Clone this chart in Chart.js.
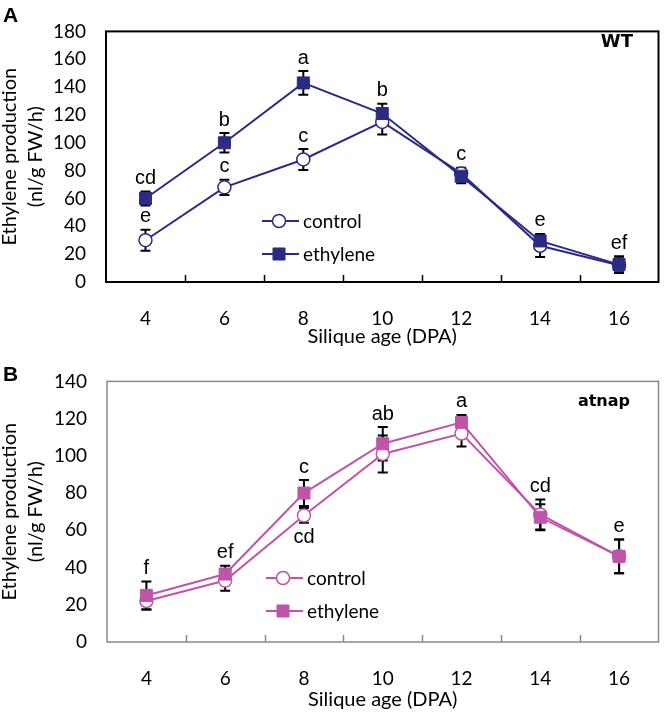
<!DOCTYPE html>
<html>
<head>
<meta charset="utf-8">
<script src="https://cdn.jsdelivr.net/npm/chart.js@4.4.1/dist/chart.umd.min.js"></script>
<style>
  html, body { margin: 0; padding: 0; background: #fff; }
  canvas { display: block; }
</style>
</head>
<body>
<canvas id="panelA" width="668" height="350"></canvas>
<canvas id="panelB" width="668" height="363"></canvas>
<script>
// silique age, DPA
const ages = ["4", "6", "8", "10", "12", "14", "16"];

// panel A, wild type
const wtControl = [30, 68, 88, 115, 78, 26, 12];
const wtControlErr = [7.5, 5.5, 7.5, 9, 4, 8, 5];
const wtEthylene = [60, 100, 143, 121, 76, 29.5, 12.5];
const wtEthyleneErr = [5, 7, 8.5, 7, 5, 5, 6];
const wtLettersTop = ["cd", "b", "a", "b", "c", "e", "ef"];
const wtLettersControl = ["e", "c", "c", "", "", "", ""];

// panel B, atnap
const napControl = [22, 33, 68, 101, 112, 68.5, 46];
const napControlErr = [4.5, 5.5, 4, 10, 7, 8, 9];
const napEthylene = [25, 36.5, 80, 106.5, 118, 67, 46];
const napEthyleneErr = [7.5, 4.5, 7, 9, 4, 7, 9];
const napLettersTop = ["f", "ef", "c", "ab", "a", "cd", "e"];
const napLettersControl = ["", "", "cd", "", "", "", ""];

const TICK_FONT = { family: "Lato", size: 19 };
const TITLE_FONT = { family: "Lato", size: 20, lineHeight: 1.3 };

// error bars behind the markers
const errorBars = {
  id: "errorBars",
  beforeDatasetsDraw(chart) {
    const { ctx } = chart;
    const y = chart.scales.y;
    ctx.save();
    ctx.strokeStyle = "#000";
    ctx.lineWidth = 2;
    chart.data.datasets.forEach((ds, di) => {
      const meta = chart.getDatasetMeta(di);
      ds.data.forEach((v, i) => {
        const e = ds.err[i];
        const px = meta.data[i].x;
        const t = y.getPixelForValue(v + e);
        const b = y.getPixelForValue(v - e);
        ctx.beginPath();
        ctx.moveTo(px, t); ctx.lineTo(px, b);
        ctx.moveTo(px - 5, t); ctx.lineTo(px + 5, t);
        ctx.moveTo(px - 5, b); ctx.lineTo(px + 5, b);
        ctx.stroke();
      });
    });
    ctx.restore();
  }
};

// frame, inward ticks, letters, legend, labels
const decorations = {
  id: "decorations",
  afterDraw(chart, args, o) {
    const { ctx, chartArea: a } = chart;
    const x = chart.scales.x, y = chart.scales.y;
    ctx.save();
    ctx.strokeStyle = o.boxColor;
    ctx.lineWidth = o.boxWidth;
    ctx.strokeRect(a.left, a.top, a.right - a.left, a.bottom - a.top);
    ctx.beginPath();
    for (let i = 1; i < ages.length; i++) {
      const px = Math.round((x.getPixelForValue(i - 1) + x.getPixelForValue(i)) / 2) + 0.5;
      ctx.moveTo(px, a.bottom);
      ctx.lineTo(px, a.bottom - 7);
    }
    ctx.lineWidth = 1.5;
    ctx.stroke();

    // significance letters
    const [eth, ctl] = chart.data.datasets;
    ctx.fillStyle = "#000";
    ctx.font = "20px 'Liberation Sans'";
    ctx.textAlign = "center";
    ctx.textBaseline = "middle";
    ages.forEach((_, i) => {
      const px = x.getPixelForValue(i);
      const top = Math.max(eth.data[i] + eth.err[i], ctl.data[i] + ctl.err[i]);
      if (o.top[i]) ctx.fillText(o.top[i], px, y.getPixelForValue(top) - 13);
      if (o.control[i]) {
        const py = o.controlBelow
          ? y.getPixelForValue(ctl.data[i] - ctl.err[i]) + 15
          : y.getPixelForValue(ctl.data[i] + ctl.err[i]) - 13;
        ctx.fillText(o.control[i], px, py);
      }
    });

    // legend
    ctx.textAlign = "left";
    ctx.font = "19px Lato";
    [ctl, eth].forEach((ds, k) => {
      const ly = o.legendY[k];
      ctx.strokeStyle = ds.borderColor;
      ctx.lineWidth = 2;
      ctx.beginPath();
      ctx.moveTo(o.legendX, ly); ctx.lineTo(o.legendX + 37, ly);
      ctx.stroke();
      ctx.fillStyle = ds.pointBackgroundColor;
      ctx.strokeStyle = ds.pointBorderColor;
      ctx.lineWidth = ds.pointBorderWidth;
      Chart.helpers.drawPoint(ctx, { pointStyle: ds.pointStyle, radius: ds.pointRadius, borderWidth: ds.pointBorderWidth }, o.legendX + 17, ly);
      ctx.fillStyle = "#000";
      ctx.fillText(ds.label, o.legendX + 41, ly + 1);
    });

    ctx.font = "bold " + o.nameSize + "px 'DejaVu Sans'";
    ctx.textAlign = "right";
    ctx.fillText(o.name, o.nameX, o.nameY);
    ctx.font = "bold 21px 'Liberation Sans'";
    ctx.textAlign = "left";
    ctx.fillText(o.letter, 3, o.letterY);
    ctx.restore();
  }
};

function makePanel(id, p) {
  const canvas = document.getElementById(id);
  return new Chart(canvas, {
    type: "line",
    data: {
      labels: ages,
      datasets: [
        {
          label: "ethylene",
          data: p.ethylene,
          err: p.ethyleneErr,
          borderColor: p.color,
          borderWidth: 2,
          pointStyle: "rect",
          pointRadius: 8.5,
          pointBackgroundColor: p.color,
          pointBorderColor: p.color,
          pointBorderWidth: 1,
        },
        {
          label: "control",
          data: p.control,
          err: p.controlErr,
          borderColor: p.color,
          borderWidth: 2,
          pointStyle: "circle",
          pointRadius: 6.5,
          pointBackgroundColor: "#fff",
          pointBorderColor: p.color,
          pointBorderWidth: 1.5,
        },
      ],
    },
    options: {
      responsive: false,
      animation: false,
      devicePixelRatio: 1,
      layout: { padding: { left: 0, top: p.area.top, right: canvas.width - p.area.right, bottom: 0 } },
      plugins: {
        legend: { display: false },
        tooltip: { enabled: false },
        decorations: p.deco,
      },
      scales: {
        x: {
          type: "category",
          offset: true,
          grid: { display: false, drawTicks: false },
          border: { display: false },
          ticks: { font: TICK_FONT, color: "#000", padding: 25 },
          title: { display: true, text: "Silique age (DPA)", font: TITLE_FONT, color: "#000", padding: 0 },
          afterFit: (s) => { s.height = canvas.height - p.area.bottom; },
        },
        y: {
          min: 0,
          max: p.max,
          grid: { display: false, drawTicks: false },
          border: { display: false },
          ticks: { stepSize: 20, font: TICK_FONT, color: "#000", padding: 20 },
          title: { display: true, text: ["Ethylene production", "(nl/g FW/h)"], font: TITLE_FONT, color: "#000", padding: { top: -3, bottom: 0 } },
          afterFit: (s) => { s.width = p.area.left; },
        },
      },
    },
    plugins: [errorBars, decorations],
  });
}

makePanel("panelA", {
  color: "#2B2B83",
  control: wtControl, controlErr: wtControlErr,
  ethylene: wtEthylene, ethyleneErr: wtEthyleneErr,
  max: 180,
  area: { left: 106, top: 8, right: 662, bottom: 282 },
  deco: {
    boxColor: "#000", boxWidth: 2,
    top: wtLettersTop, control: wtLettersControl, controlBelow: false,
    legendX: 262, legendY: [221, 254],
    name: "WT", nameSize: 18, nameX: 633, nameY: 42,
    letter: "A", letterY: 16,
  },
});

makePanel("panelB", {
  color: "#BF55A8",
  control: napControl, controlErr: napControlErr,
  ethylene: napEthylene, ethyleneErr: napEthyleneErr,
  max: 140,
  area: { left: 107, top: 24, right: 665, bottom: 292 },
  deco: {
    boxColor: "#888", boxWidth: 1.5,
    top: napLettersTop, control: napLettersControl, controlBelow: true,
    legendX: 266, legendY: [228, 261],
    name: "atnap", nameSize: 16, nameX: 630, nameY: 52,
    letter: "B", letterY: 25,
  },
});
</script>
</body>
</html>
